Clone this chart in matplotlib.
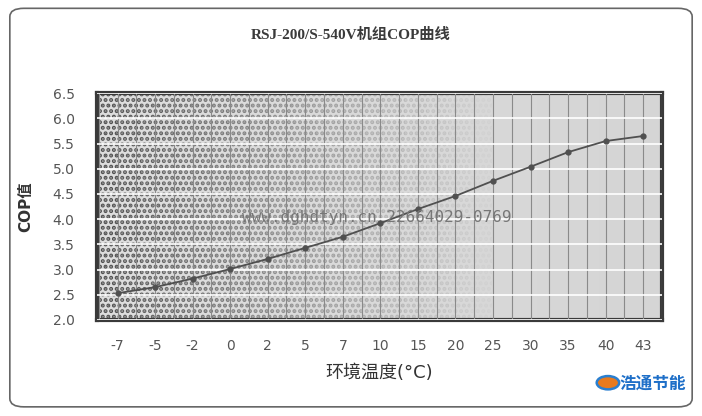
#!/usr/bin/env python3

import numpy as np
import matplotlib.pyplot as plt
from matplotlib.colors import LinearSegmentedColormap
from matplotlib.patches import FancyBboxPatch, Circle
from matplotlib.ticker import MultipleLocator

plt.rcParams["font.family"] = ["DejaVu Sans", "Noto Sans CJK SC"]
plt.rcParams["hatch.linewidth"] = 2.0

# Data
temps = ["-7", "-5", "-2", "0", "2", "5", "7", "10", "15", "20", "25", "30", "35", "40", "43"]
cop = [2.53, 2.65, 2.82, 3.01, 3.21, 3.43, 3.65, 3.92, 4.20, 4.46, 4.76, 5.04, 5.33, 5.55, 5.65]
y_ticks = [2.0, 2.5, 3.0, 3.5, 4.0, 4.5, 5.0, 5.5, 6.0, 6.5]

fig = plt.figure(figsize=(7.02, 4.16), dpi=100)
fig.patch.set_facecolor("white")

# outer rounded border
border = FancyBboxPatch(
    (0.014, 0.022), 0.972, 0.958,
    boxstyle="round,pad=0,rounding_size=0.02",
    transform=fig.transFigure, fill=False, edgecolor="#666666", linewidth=1.2,
)
fig.patches.append(border)

ax = fig.add_axes([0.138, 0.231, 0.805, 0.545])
x = np.arange(len(temps))

# background: light grey, with a dark halftone fading out from the left
bg_cmap = LinearSegmentedColormap.from_list("bg", ["#dedede", "#d5d5d5"])
grad = np.linspace(0, 1, 256).reshape(1, -1)
ax.imshow(grad, extent=[0, 1, 0, 1], transform=ax.transAxes, aspect="auto",
          cmap=bg_cmap, zorder=0)
n_slices = 18
edges = np.linspace(0, 0.7, n_slices + 1)
for i in range(n_slices):
    a = 0.95 * (1 - i / n_slices) ** 1.1
    ax.fill_between([edges[i], edges[i + 1]], 0, 1, transform=ax.transAxes,
                    facecolor="none", hatch="...", edgecolor="#4a4a4a",
                    linewidth=0, alpha=a, zorder=0.5)

ax.set_xlim(-0.55, len(temps) - 0.5)
ax.set_ylim(2.0, 6.5)

ax.xaxis.set_major_locator(MultipleLocator(1))
ax.xaxis.set_minor_locator(MultipleLocator(0.5))
ax.grid(True, axis="x", which="both", color="#8a8a8a", linewidth=0.8, zorder=1)
ax.yaxis.set_major_locator(MultipleLocator(0.5))
ax.grid(True, axis="y", which="major", color="white", linewidth=1.2, zorder=1)
ax.set_axisbelow(False)

ax.plot(x, cop, color="#505050", linewidth=1.3, marker="o", markersize=3.5,
        markerfacecolor="#505050", zorder=3)

ax.set_xticks(x)
ax.set_xticklabels(temps)
ax.set_yticks(y_ticks)
ax.set_yticklabels([f"{v:.1f}" for v in y_ticks])
ax.tick_params(axis="both", which="both", length=0, labelsize=10, labelcolor="#555555")
ax.tick_params(axis="x", pad=14)
ax.tick_params(axis="y", pad=16)

for s in ax.spines.values():
    s.set_color("#3a3a3a")
    s.set_linewidth(3)

ax.set_xlabel("环境温度(°C)", fontsize=13, color="#333333", labelpad=8)
ax.set_ylabel("COP值", fontsize=11, fontweight="bold", color="#333333", labelpad=14)

fig.text(0.5, 0.915, "RSJ-200/S-540V机组COP曲线", ha="center", va="center",
         fontsize=11, color="#3a3a3a", fontweight="bold",
         family=["Liberation Serif", "Noto Sans CJK SC"])

# watermark text
fig.text(0.345, 0.478, "www.dghdtyn.cn 22664029-0769", fontsize=11.5,
         color="#777777", family="DejaVu Sans Mono", va="center")

# logo bottom right
fig.patches.append(Circle((0.866, 0.08), 0.016, transform=fig.transFigure,
                          facecolor="#e87a1e", edgecolor="#2a7fd0", linewidth=1.8))
fig.text(0.882, 0.078, "浩通节能", fontsize=12, fontweight="bold", color="#1e6fc8",
         va="center", family=["Noto Sans CJK SC"])

plt.savefig("out.png", dpi=100)
